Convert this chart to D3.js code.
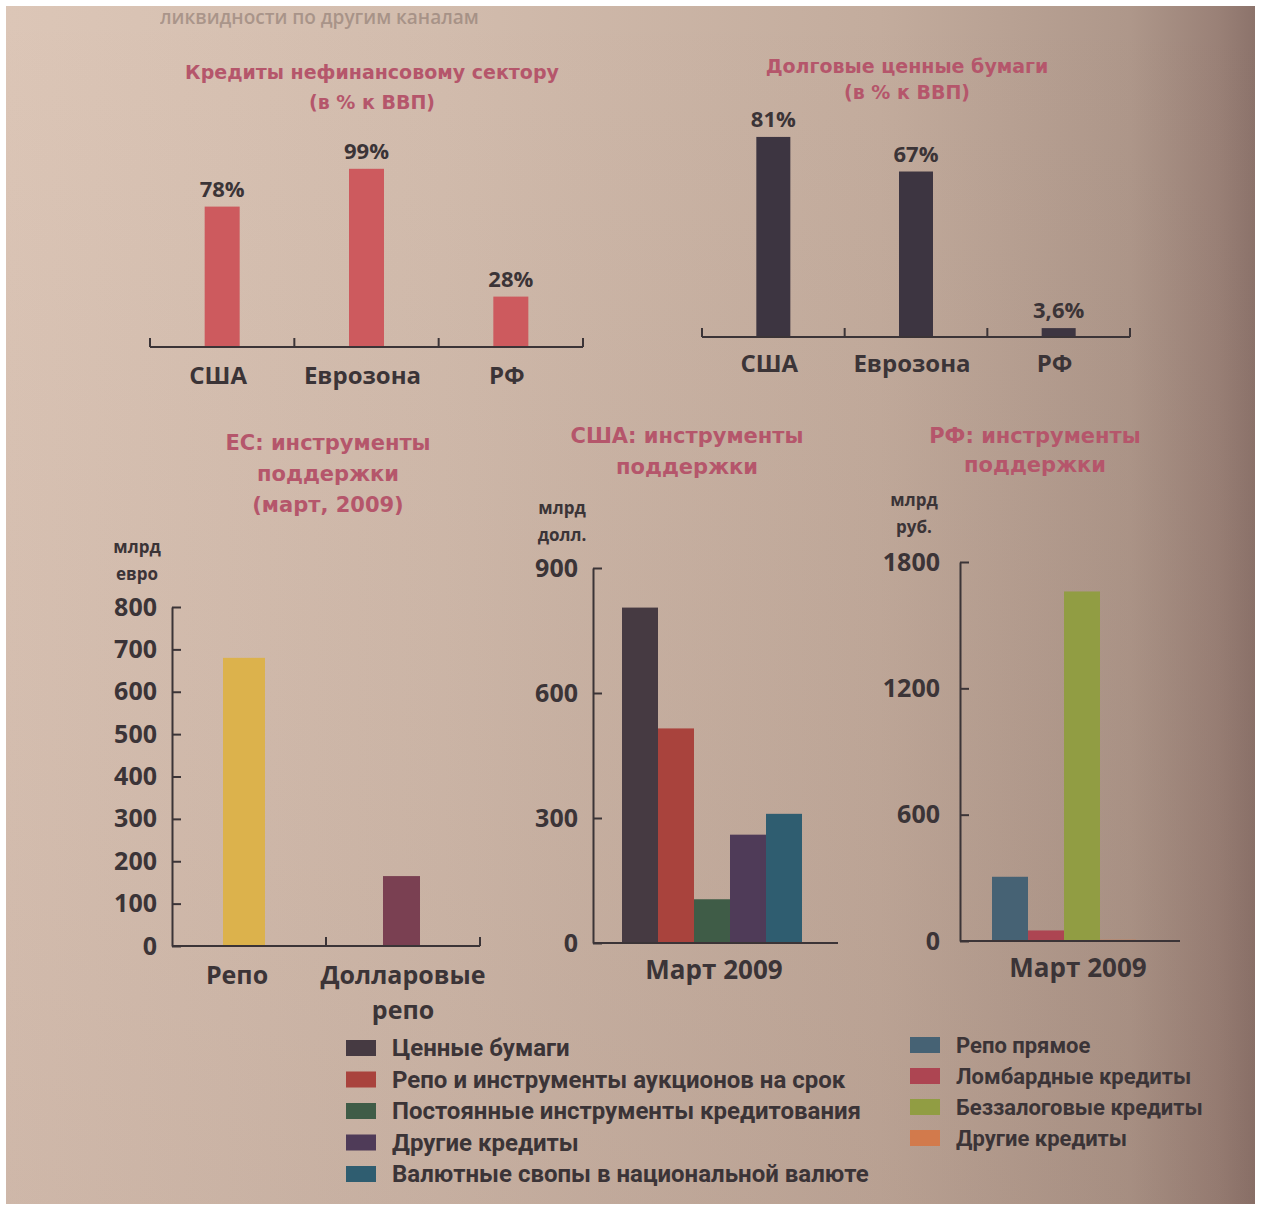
<!DOCTYPE html>
<html>
<head>
<meta charset="utf-8">
<script src="https://cdnjs.cloudflare.com/ajax/libs/d3/7.8.5/d3.min.js"></script>
<style>
  body { margin: 0; background: #fff; }
  svg text { font-family: "Open Sans", "DejaVu Sans", sans-serif; }
</style>
</head>
<body>
<div id="chart"></div>
<script>
// top charts: % of GDP
const topCategories = ["США", "Еврозона", "РФ"];
const loansValues = [78, 99, 28];
const loansLabels = ["78%", "99%", "28%"];
const debtValues = [81, 67, 3.6];
const debtLabels = ["81%", "67%", "3,6%"];

// EU support instruments (bn EUR)
const euCategories = ["Репо", "Долларовые репо"];
const euValues = [680, 165];
const euTicks = [0, 100, 200, 300, 400, 500, 600, 700, 800];

// US support instruments (bn USD)
const usSeries = ["Ценные бумаги", "Репо и инструменты аукционов на срок",
  "Постоянные инструменты кредитования", "Другие кредиты",
  "Валютные свопы в национальной валюте"];
const usValues = [805, 515, 105, 260, 310];
const usTicks = [0, 300, 600, 900];

// RF support instruments (bn RUB)
const ruSeries = ["Репо прямое", "Ломбардные кредиты", "Беззалоговые кредиты", "Другие кредиты"];
const ruValues = [305, 50, 1660, 6];
const ruTicks = [0, 600, 1200, 1800];

const usColors = ["#463a42", "#a9433d", "#3f5c47", "#4f3b58", "#2f5d70"];
const ruColors = ["#466274", "#ad4552", "#919d43", "#d27a4c"];
const euColors = ["#dcb24c", "#7a4052"];

const width = 1262, height = 1209;
const ink = "#3b3437";
const titleColor = "#b5566b";

const svg = d3.select("#chart").append("svg")
  .attr("width", width)
  .attr("height", height);

// paper background
const defs = svg.append("defs");
const grad = defs.append("linearGradient").attr("id", "paper")
  .attr("x1", 0).attr("x2", 1).attr("y1", 0).attr("y2", 0);
[["0%", "#dcc6b7"], ["35%", "#d2bcad"], ["70%", "#c3ac9d"], ["90%", "#ae978a"], ["97%", "#9a8177"], ["100%", "#8c736b"]]
  .forEach(([o, c]) => grad.append("stop").attr("offset", o).attr("stop-color", c));
const shade = defs.append("linearGradient").attr("id", "shade")
  .attr("x1", 0).attr("x2", 0).attr("y1", 0).attr("y2", 1);
shade.append("stop").attr("offset", "0%").attr("stop-color", "#6a4a40").attr("stop-opacity", 0);
shade.append("stop").attr("offset", "100%").attr("stop-color", "#6a4a40").attr("stop-opacity", 0.12);

svg.append("rect").attr("x", 6).attr("y", 6).attr("width", 1249).attr("height", 1198)
  .attr("fill", "url(#paper)");
svg.append("rect").attr("x", 6).attr("y", 6).attr("width", 1249).attr("height", 1198)
  .attr("fill", "url(#shade)");

// faint tail of the previous paragraph at the top of the page
svg.append("text").attr("x", 160).attr("y", 24)
  .style("font-size", "19px").style("font-weight", 600)
  .attr("fill", "#7d6a63").attr("opacity", 0.5)
  .text("ликвидности по другим каналам");

function title(lines, cx, y0, lh, size) {
  svg.append("g").selectAll("text").data(lines).join("text")
    .attr("x", cx).attr("y", (d, i) => y0 + i * lh)
    .attr("text-anchor", "middle")
    .attr("fill", titleColor)
    .style("font-family", "'DejaVu Sans', sans-serif")
    .style("font-weight", "bold")
    .style("font-size", size + "px")
    .text(d => d);
}

// ---- top percent charts ----
function gdpChart(opts) {
  const x = d3.scaleBand().domain(topCategories).range([opts.x0, opts.x1]).padding(0);
  const y = d3.scaleLinear().domain([0, 100]).range([opts.base, opts.base - opts.pxPer100]);
  const g = svg.append("g");

  g.selectAll("rect").data(opts.values).join("rect")
    .attr("x", (d, i) => x(topCategories[i]) + x.bandwidth() / 2 - opts.bw / 2)
    .attr("width", opts.bw)
    .attr("y", d => y(d))
    .attr("height", d => y(0) - y(d))
    .attr("fill", opts.color);

  g.selectAll(".val").data(opts.values).join("text")
    .attr("x", (d, i) => x(topCategories[i]) + x.bandwidth() / 2)
    .attr("y", d => y(d) - 10)
    .attr("text-anchor", "middle")
    .attr("fill", ink)
    .style("font-size", "22px").style("font-weight", 700)
    .text((d, i) => opts.labels[i]);

  // baseline with upward ticks at band edges
  const edges = topCategories.map(c => x(c)).concat([opts.x1]);
  g.append("line").attr("x1", opts.x0).attr("x2", opts.x1)
    .attr("y1", y(0)).attr("y2", y(0))
    .attr("stroke", ink).attr("stroke-width", 2);
  g.selectAll(".tk").data(edges).join("line")
    .attr("x1", d => d).attr("x2", d => d)
    .attr("y1", y(0)).attr("y2", y(0) - 9)
    .attr("stroke", ink).attr("stroke-width", 2);

  g.selectAll(".cat").data(topCategories).join("text")
    .attr("x", d => x(d) + x.bandwidth() / 2 - 4)
    .attr("y", y(0) + opts.catDy)
    .attr("text-anchor", "middle")
    .attr("fill", ink)
    .style("font-size", "24px").style("font-weight", 700)
    .text(d => d);
}

title(["Кредиты нефинансовому сектору", "(в % к ВВП)"], 372, 79, 30, 19);
gdpChart({ values: loansValues, labels: loansLabels, x0: 150, x1: 583, base: 347,
  pxPer100: 180, bw: 35, color: "#cd5a5e", catDy: 37 });

title(["Долговые ценные бумаги", "(в % к ВВП)"], 907, 73, 26, 19);
gdpChart({ values: debtValues, labels: debtLabels, x0: 702, x1: 1130, base: 337,
  pxPer100: 247, bw: 34, color: "#3d3541", catDy: 35 });

// ---- bottom instrument charts ----
function styleAxis(g, size) {
  g.select(".domain").attr("stroke", ink).attr("stroke-width", 2);
  g.selectAll(".tick line").attr("stroke", ink).attr("stroke-width", 2);
  g.selectAll(".tick text").attr("fill", ink)
    .style("font-family", "'Open Sans', sans-serif")
    .style("font-size", size + "px").style("font-weight", 700);
}

function units(lines, x, y0) {
  svg.append("g").selectAll("text").data(lines).join("text")
    .attr("x", x).attr("y", (d, i) => y0 + i * 27)
    .attr("text-anchor", "middle")
    .attr("fill", ink)
    .style("font-size", "17px").style("font-weight", 700)
    .text(d => d);
}

// EU
title(["ЕС: инструменты", "поддержки", "(март, 2009)"], 328, 450, 31, 21);
units(["млрд", "евро"], 137, 553);
{
  const ax = 172, base = 946, xEnd = 480;
  const y = d3.scaleLinear().domain([0, 800]).range([base, 607]);
  const x = d3.scaleBand().domain(euCategories).range([ax, xEnd]).padding(0);
  const g = svg.append("g");
  g.selectAll("rect").data(euValues).join("rect")
    .attr("x", (d, i) => x(euCategories[i]) + x.bandwidth() / 2 - 20 - (i === 0 ? 6 : 0))
    .attr("width", (d, i) => i === 0 ? 42 : 37)
    .attr("y", d => y(d))
    .attr("height", d => y(0) - y(d))
    .attr("fill", (d, i) => euColors[i]);

  const yg = g.append("g").attr("transform", `translate(${ax},0)`)
    .call(d3.axisLeft(y).tickValues(euTicks).tickFormat(d3.format("d"))
      .tickSizeInner(-9).tickSizeOuter(0).tickPadding(15));
  styleAxis(yg, 25);

  g.append("line").attr("x1", ax).attr("x2", xEnd).attr("y1", base).attr("y2", base)
    .attr("stroke", ink).attr("stroke-width", 2);
  g.selectAll(".tk").data([x(euCategories[1]), xEnd]).join("line")
    .attr("x1", d => d).attr("x2", d => d).attr("y1", base).attr("y2", base - 9)
    .attr("stroke", ink).attr("stroke-width", 2);

  const catLines = [["Репо"], ["Долларовые", "репо"]];
  euCategories.forEach((c, i) => {
    g.append("g").selectAll("text").data(catLines[i]).join("text")
      .attr("x", x(c) + x.bandwidth() / 2 - (i === 0 ? 12 : 0))
      .attr("y", (d, j) => base + 38 + j * 35)
      .attr("text-anchor", "middle")
      .attr("fill", ink)
      .style("font-size", "25px").style("font-weight", 700)
      .text(d => d);
  });
}

// instrument chart with one group of adjacent bars
function groupChart(opts) {
  const y = d3.scaleLinear().domain(opts.domain).range([opts.base, opts.top]);
  const x = d3.scaleBand().domain(opts.series).range([opts.b0, opts.b1]).padding(0);
  const g = svg.append("g");
  g.selectAll("rect").data(opts.values).join("rect")
    .attr("x", (d, i) => x(opts.series[i]))
    .attr("width", x.bandwidth())
    .attr("y", d => y(d))
    .attr("height", d => y(0) - y(d))
    .attr("fill", (d, i) => opts.colors[i]);

  const yg = g.append("g").attr("transform", `translate(${opts.ax},0)`)
    .call(d3.axisLeft(y).tickValues(opts.ticks).tickFormat(d3.format("d"))
      .tickSizeInner(-9).tickSizeOuter(0).tickPadding(opts.pad));
  styleAxis(yg, 25);

  g.append("line").attr("x1", opts.ax).attr("x2", opts.xEnd)
    .attr("y1", opts.base).attr("y2", opts.base)
    .attr("stroke", ink).attr("stroke-width", 2);

  g.append("text")
    .attr("x", opts.labelX).attr("y", opts.base + 36)
    .attr("text-anchor", "middle")
    .attr("fill", ink)
    .style("font-size", "26px").style("font-weight", 700)
    .text("Март 2009");
}

title(["США: инструменты", "поддержки"], 687, 443, 31, 21);
units(["млрд", "долл."], 562, 514);
groupChart({ series: usSeries, values: usValues, colors: usColors, ticks: usTicks,
  domain: [0, 900], base: 943, top: 568, ax: 593, b0: 622, b1: 802, xEnd: 838,
  pad: 15, labelX: 714 });

title(["РФ: инструменты", "поддержки"], 1035, 443, 29, 21);
units(["млрд", "руб."], 914, 506);
groupChart({ series: ruSeries, values: ruValues, colors: ruColors, ticks: ruTicks,
  domain: [0, 1800], base: 941, top: 562, ax: 960, b0: 992, b1: 1136, xEnd: 1180,
  pad: 20, labelX: 1078 });

// ---- legends ----
function legend(items, colors, x, y0, step, size) {
  const g = svg.append("g");
  const row = g.selectAll("g").data(items).join("g")
    .attr("transform", (d, i) => `translate(${x},${y0 + i * step})`);
  row.append("rect").attr("x", 0).attr("y", -8).attr("width", 30).attr("height", 16)
    .attr("fill", (d, i) => colors[i]);
  row.append("text").attr("x", 46).attr("y", 8)
    .attr("fill", ink)
    .style("font-family", "Roboto, sans-serif")
    .style("font-size", size + "px").style("font-weight", 700)
    .text(d => d);
}

legend(usSeries, usColors, 346, 1048, 31.5, 24);
legend(ruSeries, ruColors, 910, 1045, 31, 22);
</script>
</body>
</html>
